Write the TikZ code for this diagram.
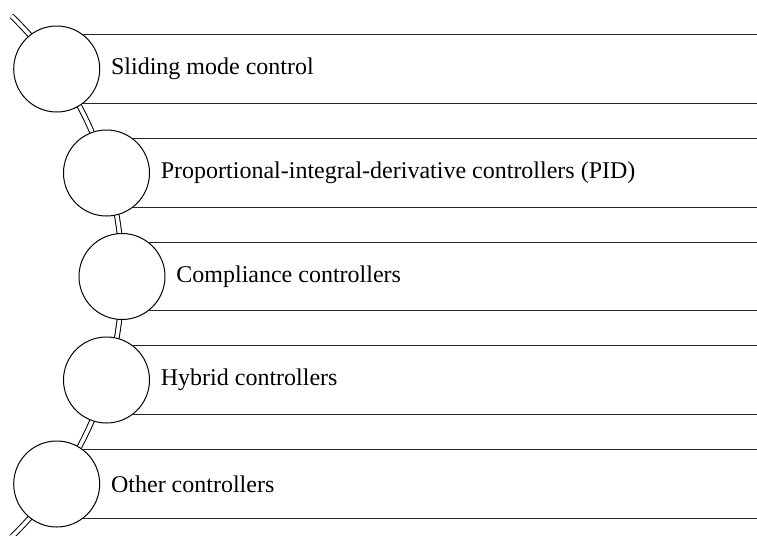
\documentclass[tikz,border=0pt]{standalone}
\usepackage{fontspec}
\setmainfont{Liberation Serif}
\usetikzlibrary{positioning}
\tikzset{
  ring/.style={draw, circle, fill=white, minimum size=43pt, inner sep=0pt, outer sep=0pt, line width=0.5pt},
  track/.style={double, double distance=1.8pt, line width=0.5pt},
  band/.style={line width=0.6pt, black!85},
  item/.style={inner sep=0pt, font=\fontsize{12}{14}\selectfont}
}

\begin{document}
\begin{tikzpicture}[x=0.5pt, y=-0.5pt]
                \useasboundingbox (0,0) rectangle (757,536);
                \coordinate (edge) at (757,0);
                \draw[track] (-240.3,276.5) ++(-46:362.3) arc[start angle=-46, end angle=46, radius=362.3];
                \node[ring] (c1) at (56.7,69) {};
                \node[ring] (c2) at (106.5,173) {};
                \node[ring] (c3) at (122,276.5) {};
                \node[ring] (c4) at (106.5,380) {};
                \node[ring] (c5) at (56.7,484) {};
                \draw[band] (c1.53.4) -- (c1.53.4 -| edge);
                \draw[band] (c1.-53.4) -- (c1.-53.4 -| edge);
                \draw[band] (c2.53.4) -- (c2.53.4 -| edge);
                \draw[band] (c2.-53.4) -- (c2.-53.4 -| edge);
                \draw[band] (c3.53.4) -- (c3.53.4 -| edge);
                \draw[band] (c3.-53.4) -- (c3.-53.4 -| edge);
                \draw[band] (c4.53.4) -- (c4.53.4 -| edge);
                \draw[band] (c4.-53.4) -- (c4.-53.4 -| edge);
                \draw[band] (c5.53.4) -- (c5.53.4 -| edge);
                \draw[band] (c5.-53.4) -- (c5.-53.4 -| edge);
                \node[item, right=5.5pt of c1] (t1) {Sliding mode control};
                \node[item, right=5.5pt of c2] (t2) {Proportional-integral-derivative controllers (PID)};
                \node[item, right=5.5pt of c3] (t3) {Compliance controllers};
                \node[item, right=5.5pt of c4] (t4) {Hybrid controllers};
                \node[item, right=5.5pt of c5] (t5) {Other controllers};
            \end{tikzpicture}
\end{document}
